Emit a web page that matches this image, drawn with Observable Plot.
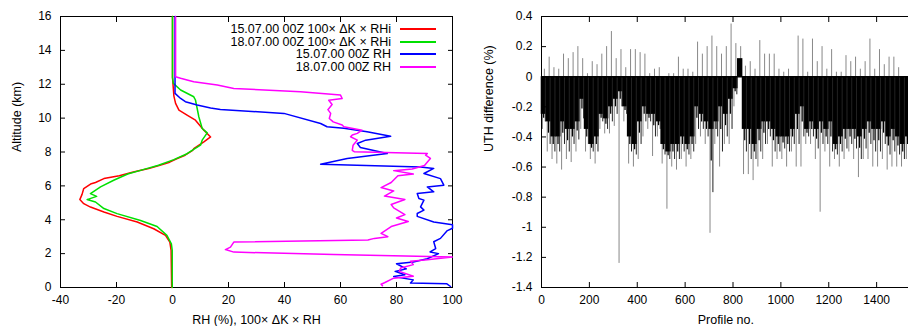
<!DOCTYPE html>
<html><head><meta charset="utf-8">
<script src="https://cdn.jsdelivr.net/npm/d3@7"></script>
<script src="https://cdn.jsdelivr.net/npm/@observablehq/plot@0.6"></script>
<style>
html,body{margin:0;padding:0;background:#fff;overflow:hidden;}
#wrap{position:relative;width:908px;height:326px;overflow:hidden;font-family:"Liberation Sans",Arial,sans-serif;}
#left,#right{position:absolute;top:0;height:326px;}
#left{left:0;width:460px}
#right{left:460px;width:500px}
#left svg,#right svg{max-width:none !important;}
.lg{position:absolute;left:0;width:391px;text-align:right;font-size:12.5px;line-height:14px;white-space:nowrap;color:#000}
.sw{position:absolute;left:400px;width:36px;height:2px}
</style></head><body><div id="wrap"><div id="left"></div><div id="right"></div><div id="legend"></div></div>
<script>
// ---------------- Left panel data ----------------
const redAlt = [16, 12.4, 11.3, 10.87, 10.47, 10.18, 9.88, 9.29, 8.89, 8.6, 8.2, 8.1, 7.81, 7.6, 7.4, 7.22, 7.02, 6.82, 6.6, 6.43, 6.2, 6.13, 5.84, 5.5, 5.19, 4.95, 4.75, 4.46, 4.2, 3.87, 3.47, 3.08, 2.68, 2.19, 0];
const redVal = [0, 0, 0.5, 1.1, 2.3, 5.2, 8.2, 11.2, 13.6, 11.2, 7.6, 7.2, 4.5, 1.5, -1, -4.5, -8.5, -14, -19, -24.5, -27.5, -29, -31.7, -32.3, -33.1, -31.7, -29.3, -24.5, -19.8, -12.6, -6.7, -2.5, -0.95, -0.5, -0.3];
const greenAlt = [16, 12.4, 12.05, 11.66, 11.26, 11.07, 10.08, 9.39, 9.13, 8.7, 8.4, 8.1, 7.9, 7.55, 7.22, 6.96, 6.7, 6.33, 5.94, 5.54, 5.38, 5.19, 5.05, 4.66, 4.36, 3.96, 3.6, 3.08, 2.58, 2.2, 0];
const greenVal = [0, 0, 0.3, 2.9, 7.6, 8.2, 9.4, 10.6, 12.4, 10.6, 10, 7, 5.2, 0.5, -5, -10.5, -16, -21, -25.7, -29.3, -27.1, -30.5, -27.5, -24.5, -19.8, -11.4, -5.5, -2.0, -0.4, -0.1, -0.1];
const blueAlt = [16, 11.46, 11.16, 10.97, 10.77, 10.6, 10.51, 10.28, 9.68, 9.49, 9.4, 9.19, 8.93, 8.7, 8.5, 8.27, 7.91, 7.61, 7.28, 7.12, 7.03, 6.73, 6.43, 6.04, 5.94, 5.65, 5.55, 5.25, 5.16, 4.76, 4.57, 4.37, 4.2, 3.87, 3.7, 3.5, 3.34, 2.9, 2.7, 2.3, 2.1, 2.0, 1.7, 1.5, 1.4, 1.1, 0.95, 0.75, 0.65, 0.45, 0.26, 0.22, 0.06];
const blueVal = [0.9, 0.9, 2.9, 4.6, 8.8, 13.6, 17.1, 39.8, 52.9, 55.2, 61.2, 69.5, 77.9, 69, 66, 67.1, 76.7, 62.4, 52.9, 88.6, 93.3, 89.8, 95.7, 96.9, 91, 93.3, 87.4, 88, 89.8, 88.6, 89.8, 87.4, 87.4, 93.3, 100, 100, 98, 95.7, 93.3, 94, 92, 95, 91, 86, 80, 83.5, 79.5, 83, 79, 86, 85, 98, 99.3];
const magAlt = [16, 12.44, 12.35, 12.25, 12.15, 11.95, 11.75, 11.56, 11.36, 11.16, 11.06, 10.8, 10.5, 10.28, 9.98, 9.78, 9.59, 9.49, 9.29, 9.1, 9.0, 8.9, 8.7, 8.4, 8.1, 8.02, 7.91, 7.81, 7.62, 7.2, 7.0, 6.9, 6.7, 6.6, 6.2, 5.9, 5.7, 5.4, 5.2, 4.9, 4.7, 4.3, 4.1, 3.9, 3.6, 3.2, 3.0, 2.9, 2.8, 2.68, 2.38, 2.24, 2.09, 1.95, 1.8, 1.64, 1.55, 1.35, 1.15, 0.95, 0.66, 0.55, 0.28, 0.19, 0.1];
const magVal = [1.1, 1.1, 2.9, 5.2, 7.6, 16, 21.9, 45.7, 60, 60.6, 55.8, 57, 55.5, 56.5, 56, 57.4, 60.6, 61.2, 67.7, 66, 64.2, 63.6, 66, 64.5, 64.2, 64.9, 91, 90.4, 92.1, 90, 85.6, 79, 86, 80.5, 78.1, 74.5, 79, 75.7, 83, 78.1, 79, 83, 80, 84.2, 78.1, 74.5, 76.9, 72.1, 69.8, 21.9, 20.7, 18.9, 21.9, 57.6, 99.9, 91, 85, 86, 81.5, 81, 86, 79, 75.7, 74.5, 75];

const seriesNames = ["15.07.00 00Z 100× ΔK × RHi", "18.07.00 00Z 100× ΔK × RHi", "15.07.00 00Z RH", "18.07.00 00Z RH"];
const seriesColors = ["#ff0000", "#00e000", "#0000ff", "#ff00ff"];

const xTicksL = [-40, -20, 0, 20, 40, 60, 80, 100];
const xTickLabelsL = ["-40", "-20", "0", "20", "40", "60", "80", "100"];
const yTicksL = [0, 2, 4, 6, 8, 10, 12, 14, 16];
const yTickLabelsL = ["0", "2", "4", "6", "8", "10", "12", "14", "16"];

// ---------------- Right panel data (20-profile bins) ----------------
const binStart = [0,20,40,60,80,100,120,140,160,180,200,220,240,260,280,300,320,340,360,380,400,420,440,460,480,500,520,540,560,580,600,620,640,660,680,700,720,740,760,780,800,820,840,860,880,900,920,940,960,980,1000,1020,1040,1060,1080,1100,1120,1140,1160,1180,1200,1220,1240,1260,1280,1300,1320,1340,1360,1380,1400,1420,1440,1460,1480,1500,1520];
const upVal = [0.05,0.13,0.06,0.05,0.15,0.12,0.16,0.2,0.12,0.02,0.1,0.08,0.15,0.2,0.3,0.12,0.18,0.06,0.18,0.18,0.16,0.15,0.02,0.05,0.06,0.0,0.02,0.02,0.13,0.05,0.05,0.03,0.23,0.15,0.2,0.27,0.2,0.15,0.2,0.35,0.22,0.2,0.07,0.1,0.05,0.24,0.15,0.15,0.15,0.05,0.03,0.05,0.0,0.27,0.25,0.03,0.25,0.1,0.2,0.05,0.18,0.03,0.03,0.14,0.1,0.13,0.05,0.1,0.25,0.05,0.18,0.08,0.13,0.13,0.06,0.0,0.0];
const bodyVal = [-0.25,-0.3,-0.4,-0.4,-0.3,-0.35,-0.35,-0.3,-0.15,-0.35,-0.45,-0.4,-0.25,-0.28,-0.2,-0.15,-0.1,-0.2,-0.4,-0.45,-0.3,-0.2,-0.25,-0.25,-0.3,-0.45,-0.5,-0.45,-0.45,-0.4,-0.45,-0.4,-0.2,-0.25,-0.3,-0.35,-0.3,-0.2,-0.25,-0.15,-0.08,0.12,-0.35,-0.35,-0.45,-0.35,-0.3,-0.3,-0.35,-0.4,-0.4,-0.4,-0.35,-0.25,-0.2,-0.35,-0.3,-0.35,-0.3,-0.35,-0.3,-0.45,-0.4,-0.35,-0.35,-0.35,-0.4,-0.35,-0.3,-0.35,-0.35,-0.3,-0.4,-0.35,-0.4,-0.45,-0.4];
const lowVal = [-0.35,-0.5,-0.55,-0.58,-0.62,-0.55,-0.57,-0.5,-0.35,-0.5,-0.55,-0.58,-0.35,-0.38,-0.38,-0.33,-1.24,-0.3,-0.58,-0.6,-0.55,-0.4,-0.35,-0.53,-0.4,-0.58,-0.88,-0.6,-0.62,-0.55,-0.6,-0.55,-0.45,-0.4,-0.45,-1.04,-0.45,-0.6,-0.45,-0.45,-0.2,0,-0.65,-0.65,-0.69,-0.6,-0.55,-0.45,-0.6,-0.55,-0.55,-0.6,-0.5,-0.6,-0.6,-0.45,-0.45,-0.55,-0.9,-0.5,-0.6,-0.55,-0.6,-0.55,-0.5,-0.55,-0.67,-0.55,-0.55,-0.6,-0.6,-0.55,-0.62,-0.6,-0.6,-0.6,-0.55];
const low2Val = [-0.3,-0.45,-0.5,-0.5,-0.45,-0.5,-0.45,-0.42,-0.28,-0.45,-0.5,-0.5,-0.3,-0.35,-0.3,-0.25,-0.2,-0.25,-0.5,-0.52,-0.45,-0.3,-0.3,-0.4,-0.35,-0.52,-0.55,-0.55,-0.55,-0.5,-0.52,-0.5,-0.35,-0.35,-0.4,-0.77,-0.4,-0.5,-0.4,-0.35,-0.12,0,-0.5,-0.55,-0.55,-0.5,-0.45,-0.4,-0.5,-0.5,-0.48,-0.5,-0.45,-0.45,-0.4,-0.4,-0.4,-0.48,-0.45,-0.45,-0.5,-0.52,-0.5,-0.48,-0.45,-0.48,-0.55,-0.48,-0.45,-0.5,-0.5,-0.45,-0.52,-0.5,-0.52,-0.55,-0.5];

const xTicksR = [0, 200, 400, 600, 800, 1000, 1200, 1400, 1600];
const xTickLabelsR = ["0", "200", "400", "600", "800", "1000", "1200", "1400", ""];
const yTicksR = [-1.4, -1.2, -1, -0.8, -0.6, -0.4, -0.2, 0, 0.2, 0.4];
const yTickLabelsR = ["-1.4", "-1.2", "-1", "-0.8", "-0.6", "-0.4", "-0.2", "0", "0.2", "0.4"];

// ---------------- Build ----------------
const font = "'Liberation Sans', Arial, sans-serif";
const fmt = (ticks, labels) => (d) => labels[ticks.findIndex(t => Math.abs(t - d) < 1e-9)] ?? "";
const blank = () => "";

const profiles = [redAlt, greenAlt, blueAlt, magAlt].map((alts, s) => {
  const vals = [redVal, greenVal, blueVal, magVal][s];
  return alts.map((a, i) => ({series: seriesNames[s], alt: a, v: vals[i]}));
});

const leftMarks = [
  Plot.frame({stroke: "#000", strokeWidth: 1}),
  Plot.axisX(xTicksL, {anchor: "bottom", tickSize: 0, tickPadding: 8, tickFormat: fmt(xTicksL, xTickLabelsL), fontSize: 12, label: null}),
  Plot.axisX(xTicksL, {anchor: "bottom", tickSize: -5, tickFormat: blank, label: null}),
  Plot.axisX(xTicksL, {anchor: "top", tickSize: -5, tickFormat: blank, label: null}),
  Plot.axisY(yTicksL, {anchor: "left", tickSize: 0, tickPadding: 9, tickFormat: fmt(yTicksL, yTickLabelsL), fontSize: 12, label: null}),
  Plot.axisY(yTicksL, {anchor: "left", tickSize: -5, tickFormat: blank, label: null}),
  Plot.axisY(yTicksL, {anchor: "right", tickSize: -5, tickFormat: blank, label: null}),
  Plot.text(["RH (%), 100× ΔK × RH"], {frameAnchor: "bottom", dy: 32, fontSize: 12.5, lineAnchor: "middle"}),
  Plot.text(["Altitude (km)"], {frameAnchor: "left", dx: -44, rotate: -90, fontSize: 12.5, lineAnchor: "middle"}),
];
profiles.forEach((d, s) => {
  leftMarks.push(Plot.line(d, {x: "v", y: "alt", stroke: seriesColors[s], strokeWidth: 1.5, curve: "linear"}));
});

const left = Plot.plot({
  width: 460, height: 326,
  marginLeft: 60, marginRight: 8, marginTop: 16, marginBottom: 39,
  style: {fontFamily: font, fontSize: "12px", color: "#000", background: "transparent", overflow: "visible", maxWidth: "none"},
  x: {domain: [-40, 100]},
  y: {domain: [0, 16]},
  marks: leftMarks
});
document.getElementById("left").appendChild(left);

const bins = binStart.map((b, i) => ({x1: b, x2: b + 20, up: upVal[i], body: bodyVal[i], low: lowVal[i], low2: low2Val[i]}));

const right = Plot.plot({
  width: 500, height: 326,
  marginLeft: 81, marginRight: 36, marginTop: 16, marginBottom: 39,
  style: {fontFamily: font, fontSize: "12px", color: "#000", background: "transparent", overflow: "visible", maxWidth: "none"},
  x: {domain: [0, 1600]},
  y: {domain: [-1.4, 0.4]},
  marks: [
    Plot.ruleX(bins, {x: d => d.x1 + 12, y1: d => Math.max(d.up, 0), y2: 0, stroke: "#888", strokeWidth: 1}),
    Plot.ruleX(bins, {x: d => d.x1 + 4, y1: 0, y2: "low", stroke: "#888", strokeWidth: 1}),
    Plot.rectY(bins, {x1: "x1", x2: "x2", y1: 0, y2: "body", fill: "#000", insetLeft: -0.3, insetRight: -0.3}),
    Plot.ruleX(bins, {x: d => d.x1 + 9, y1: 0, y2: d => (d.body + d.low2) / 2, stroke: "#000", strokeWidth: 1.2}),
    Plot.ruleX(bins, {x: d => d.x1 + 16, y1: 0, y2: "low2", stroke: "#222", strokeWidth: 1}),
    Plot.ruleY([0], {stroke: "#000", strokeWidth: 1.5}),
    Plot.frame({stroke: "#000", strokeWidth: 1}),
    Plot.axisX(xTicksR, {anchor: "bottom", tickSize: 0, tickPadding: 8, tickFormat: fmt(xTicksR, xTickLabelsR), fontSize: 12, label: null}),
    Plot.axisX(xTicksR, {anchor: "bottom", tickSize: -5, tickFormat: blank, label: null}),
    Plot.axisX(xTicksR, {anchor: "top", tickSize: -5, tickFormat: blank, label: null}),
    Plot.axisY(yTicksR, {anchor: "left", tickSize: 0, tickPadding: 9, tickFormat: fmt(yTicksR, yTickLabelsR), fontSize: 12, label: null}),
    Plot.axisY(yTicksR, {anchor: "left", tickSize: -5, tickFormat: blank, label: null}),
    Plot.axisY(yTicksR, {anchor: "right", tickSize: -5, tickFormat: blank, label: null}),
    Plot.text(["Profile no."], {x: 770, frameAnchor: "bottom", dy: 32, fontSize: 12.5, lineAnchor: "middle"}),
    Plot.text(["UTH difference (%)"], {frameAnchor: "left", dx: -53, rotate: -90, fontSize: 12.5, lineAnchor: "middle"}),
  ]
});
document.getElementById("right").appendChild(right);

// legend (inside left panel, top-right)
const lg = document.getElementById("legend");
const rowY = [29.3, 41.7, 54.1, 66.5];
seriesNames.forEach((name, i) => {
  const t = document.createElement("div");
  t.className = "lg";
  t.style.top = (rowY[i] - 7) + "px";
  t.textContent = name;
  lg.appendChild(t);
  const s = document.createElement("div");
  s.className = "sw";
  s.style.top = (rowY[i] - 1) + "px";
  s.style.background = seriesColors[i];
  lg.appendChild(s);
});
</script>
</body></html>
